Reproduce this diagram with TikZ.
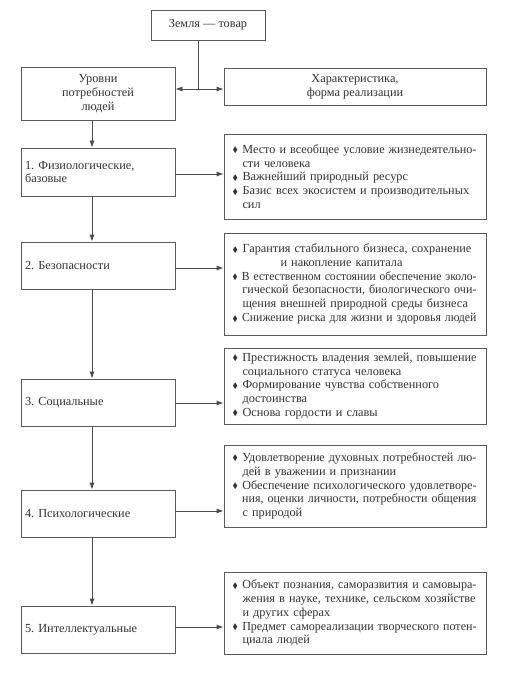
\documentclass[tikz,border=0pt]{standalone}
\usepackage{fontspec}
\setmainfont{Liberation Serif}
\usepackage{amssymb}
\usetikzlibrary{arrows.meta}
\frenchspacing
\newcommand\bul{\makebox[10pt][l]{\raisebox{0.1ex}{\scalebox{0.65}{$\blacklozenge$}}}}
\newlength\jlw
\newcommand\jl[1]{\settowidth\jlw{#1}%
  \ifdim\jlw>244pt\relax\resizebox{244pt}{\height}{#1}\else\makebox[244pt][s]{#1}\fi}
\newcommand\ind{\hspace*{10pt}}
\tikzset{
 box/.style={draw=black!65, line width=0.8pt, rectangle, inner sep=0pt, text=black!80,
   font=\fontsize{12.3}{13.8}\selectfont},
 lbox/.style={box, minimum width=154pt, minimum height=47pt, text width=146pt, align=left},
 rbox/.style={box, minimum width=262pt, text width=245pt, align=left},
 arr/.style={-{Latex[length=7pt,width=5pt]}, draw=black!70, line width=0.8pt},
 ln/.style={draw=black!70, line width=0.8pt}
}
\begin{document}
\begin{tikzpicture}[x=1pt,y=-1pt]
\useasboundingbox[fill=white] (0,0) rectangle (526,676);
\node[box, minimum width=114pt, minimum height=30pt] (top) at (208,25) {Земля — товар};
\node[lbox, minimum height=53pt, align=center] (lev) at (98,93.5) {Уровни\\потребностей\\людей};
\node[box, minimum width=262pt, minimum height=37pt, align=center] (chr) at (355,86.5) {Характеристика,\\форма реализации};

\node[lbox, minimum height=48pt] (b1) at (98,172) {1. Физиологические,\\базовые};
\node[lbox] (b2) at (98,265.5) {2. Безопасности};
\node[lbox] (b3) at (98,402.5) {3. Социальные};
\node[lbox] (b4) at (98,513.5) {4. Психологические};
\node[lbox] (b5) at (98,629.5) {5. Интеллектуальные};

\node[rbox, minimum height=85pt] (r1) at (355,176.5) {%
\jl{\bul Место и всеобщее условие жизнедеятельно-}\\
\ind сти человека\\
\bul Важнейший природный ресурс\\
\jl{\bul Базис всех экосистем и производительных}\\
\ind сил};
\node[rbox, minimum height=102pt] (r2) at (355,284) {%
\jl{\bul Гарантия стабильного бизнеса, сохранение}\\
\hspace*{48pt}и накопление капитала\\
\jl{\bul В естественном состоянии обеспечение эколо-}\\
\jl{\ind гической безопасности, биологического очи-}\\
\jl{\ind щения внешней природной среды бизнеса}\\
\jl{\bul Снижение риска для жизни и здоровья людей}};
\node[rbox, minimum height=76pt] (r3) at (355,386) {%
\jl{\bul Престижность владения землей, повышение}\\
\ind социального статуса человека\\
\bul Формирование чувства собственного\\
\ind достоинства\\
\bul Основа гордости и славы};
\node[rbox, minimum height=82pt] (r4) at (355,486) {%
\jl{\bul Удовлетворение духовных потребностей лю-}\\
\ind дей в уважении и признании\\
\jl{\bul Обеспечение психологического удовлетворе-}\\
\jl{\ind ния, оценки личности, потребности общения}\\
\ind с природой};
\node[rbox, minimum height=82pt] (r5) at (355,613) {%
\jl{\bul Объект познания, саморазвития и самовыра-}\\
\jl{\ind жения в науке, технике, сельском хозяйстве}\\
\ind и других сферах\\
\jl{\bul Предмет самореализации творческого потен-}\\
\ind циала людей};

\coordinate (j) at (198,89);
\coordinate (sp) at (92,0);
\draw[ln] (j |- top.south) -- (j);
\draw[arr] (j) -- (lev.east |- j);
\draw[arr] (j) -- (chr.west |- j);

\draw[arr] (lev.south -| sp) -- (b1.north -| sp);
\draw[arr] (b1.south -| sp) -- (b2.north -| sp);
\draw[arr] (b2.south -| sp) -- (b3.north -| sp);
\draw[arr] (b3.south -| sp) -- (b4.north -| sp);
\draw[arr] (b4.south -| sp) -- (b5.north -| sp);

\coordinate (a1) at (0,174);
\coordinate (a2) at (0,268);
\coordinate (a3) at (0,403);
\coordinate (a4) at (0,511);
\coordinate (a5) at (0,627);
\draw[arr] (b1.east |- a1) -- (r1.west |- a1);
\draw[arr] (b2.east |- a2) -- (r2.west |- a2);
\draw[arr] (b3.east |- a3) -- (r3.west |- a3);
\draw[arr] (b4.east |- a4) -- (r4.west |- a4);
\draw[arr] (b5.east |- a5) -- (r5.west |- a5);
\end{tikzpicture}
\end{document}
